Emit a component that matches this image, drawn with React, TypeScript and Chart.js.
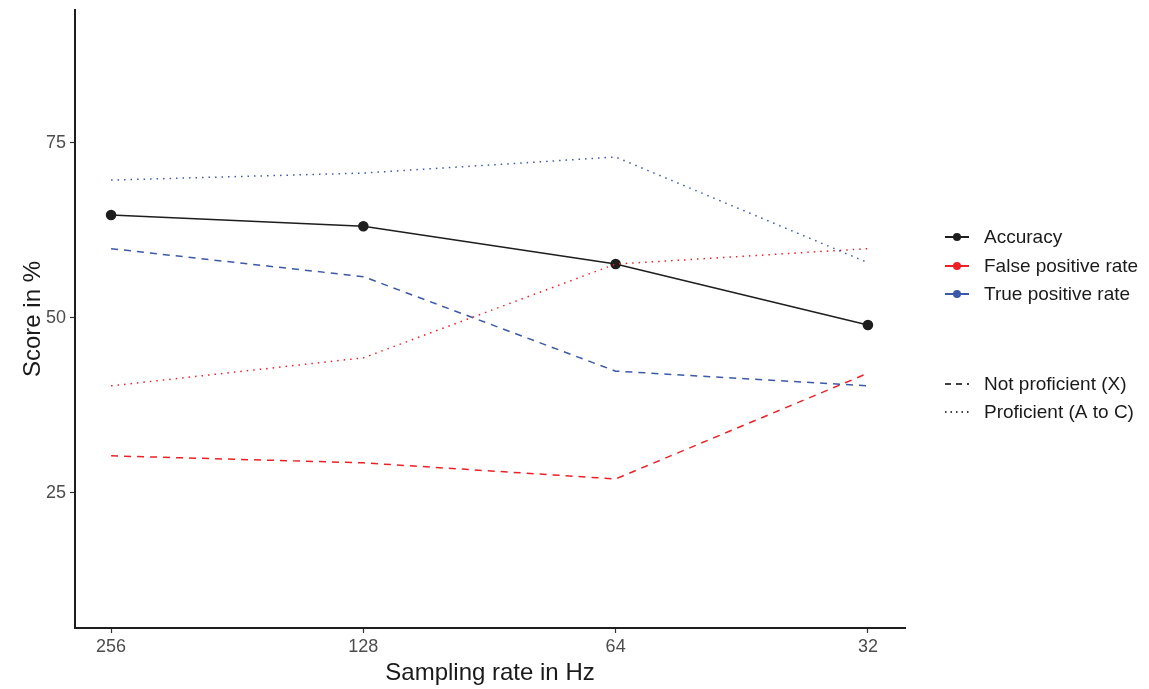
import React, { useEffect, useRef } from "react";
import { Chart, registerables } from "chart.js";

Chart.register(...registerables);

const xLabels = ["256", "128", "64", "32"];
const accuracy = [64.7, 63.1, 57.7, 49.0];
const fprNotProficient = [30.3, 29.3, 27.0, 42.1];
const fprProficient = [40.3, 44.3, 57.7, 59.9];
const tprNotProficient = [59.9, 55.9, 42.4, 40.3];
const tprProficient = [69.7, 70.7, 73.0, 57.9];
const yTicks = [25, 50, 75];

const BLACK = "#1e1e1e";
const RED = "#ee2027";
const BLUE = "#3c58a8";
const FONT = "'Liberation Sans', Arial, Helvetica, sans-serif";
const DASH = [7, 6];
const DOT = [1.5, 5];

const toPts = (arr: number[]) => arr.map((v, i) => ({ x: i, y: v }));

const legendPlugin = {
  id: "customLegend",
  afterDraw(chart: any) {
    const ctx = chart.ctx;
    ctx.save();
    ctx.font = `19px ${FONT}`;
    ctx.textBaseline = "middle";
    ctx.textAlign = "left";
    const x0 = 945;
    const x1 = 969;
    const tx = 984;
    const items = [
      { label: "Accuracy", color: BLACK, y: 237 },
      { label: "False positive rate", color: RED, y: 266 },
      { label: "True positive rate", color: BLUE, y: 294 },
    ];
    items.forEach((it) => {
      ctx.strokeStyle = it.color;
      ctx.lineWidth = 2;
      ctx.setLineDash([]);
      ctx.beginPath();
      ctx.moveTo(x0, it.y);
      ctx.lineTo(x1, it.y);
      ctx.stroke();
      ctx.fillStyle = it.color;
      ctx.beginPath();
      ctx.arc((x0 + x1) / 2, it.y, 4, 0, Math.PI * 2);
      ctx.fill();
      ctx.fillStyle = "#1a1a1a";
      ctx.fillText(it.label, tx, it.y + 1);
    });
    const items2 = [
      { label: "Not proficient (X)", dash: [6, 5], y: 384 },
      { label: "Proficient (A to C)", dash: [1.5, 4], y: 412 },
    ];
    items2.forEach((it) => {
      ctx.strokeStyle = "#000";
      ctx.lineWidth = 1.5;
      ctx.setLineDash(it.dash);
      ctx.beginPath();
      ctx.moveTo(x0, it.y);
      ctx.lineTo(x1, it.y);
      ctx.stroke();
      ctx.setLineDash([]);
      ctx.fillStyle = "#1a1a1a";
      ctx.fillText(it.label, tx, it.y + 1);
    });
    ctx.restore();
  },
};

export default function App() {
  const ref = useRef<HTMLCanvasElement>(null);
  useEffect(() => {
    if (!ref.current) return;
    const line = (data: number[], color: string, dash: number[], points: boolean, w: number) => ({
      data: toPts(data),
      borderColor: color,
      backgroundColor: color,
      borderWidth: w,
      borderDash: dash,
      pointRadius: points ? 4.5 : 0,
      pointHoverRadius: points ? 4.5 : 0,
      tension: 0,
    });
    const chart = new Chart(ref.current, {
      type: "line",
      data: {
        datasets: [
          line(tprProficient, BLUE, DOT, false, 1.5),
          line(tprNotProficient, BLUE, DASH, false, 1.5),
          line(fprProficient, RED, DOT, false, 1.5),
          line(fprNotProficient, RED, DASH, false, 1.5),
          line(accuracy, BLACK, [], true, 1.6),
        ],
      },
      options: {
        animation: false,
        responsive: false,
        events: [],
        layout: { padding: { top: 10, right: 244, left: 0, bottom: 0 } },
        plugins: { legend: { display: false }, tooltip: { enabled: false } },
        scales: {
          x: {
            type: "linear",
            min: -0.143,
            max: 3.147,
            afterBuildTicks: (s: any) => {
              s.ticks = xLabels.map((_, i) => ({ value: i }));
            },
            afterFit: (s: any) => {
              s.height = 61;
              s.paddingLeft = 0;
              s.paddingRight = 0;
            },
            ticks: {
              callback: (v: any) => xLabels[Math.round(Number(v))] ?? "",
              color: "#4d4d4d",
              font: { family: FONT, size: 18 },
              padding: 3,
              autoSkip: false,
              maxRotation: 0,
            },
            grid: { drawOnChartArea: false, tickLength: 5, color: "#333", tickWidth: 1.2 },
            border: { color: BLACK, width: 2 },
            title: {
              display: true,
              text: "Sampling rate in Hz",
              color: "#1a1a1a",
              font: { family: FONT, size: 24 },
              padding: { top: 0, bottom: 1 },
            },
          },
          y: {
            type: "linear",
            min: 5.7,
            max: 94,
            afterBuildTicks: (s: any) => {
              s.ticks = yTicks.map((v) => ({ value: v }));
            },
            afterFit: (s: any) => {
              s.width = 75;
              s.paddingTop = 0;
              s.paddingBottom = 0;
            },
            ticks: {
              color: "#4d4d4d",
              font: { family: FONT, size: 18 },
              padding: 4,
            },
            grid: { drawOnChartArea: false, tickLength: 5, color: "#333", tickWidth: 1.2 },
            border: { color: BLACK, width: 2 },
            title: {
              display: true,
              text: "Score in %",
              color: "#1a1a1a",
              font: { family: FONT, size: 24 },
              padding: { top: 19, bottom: 0 },
            },
          },
        },
      },
      plugins: [legendPlugin],
    } as any);
    return () => chart.destroy();
  }, []);
  return (
    <div style={{ position: "fixed", left: 0, top: 0, width: 1149, height: 689, background: "#fff" }}>
      <canvas ref={ref} width={1149} height={689} style={{ width: 1149, height: 689, display: "block" }} />
    </div>
  );
}
